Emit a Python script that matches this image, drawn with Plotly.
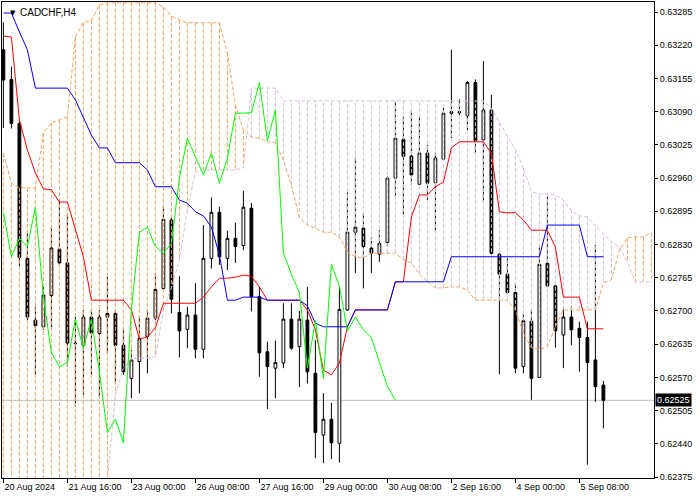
import plotly.graph_objects as go

# ---- data (CADCHF, H4) ----
bar_open = [0.63211, 0.63153, 0.63067, 0.62803, 0.62682, 0.62669, 0.62730, 0.62821, 0.62794, 0.62637,
            0.62633, 0.62688, 0.62656, 0.62688, 0.62695, 0.62633, 0.62568, 0.62601, 0.62650, 0.62686,
            0.62744, 0.62878, 0.62697, 0.62664, 0.62692, 0.62625, 0.62803, 0.62893, 0.62803, 0.62842,
            0.62828, 0.62901, 0.62728, 0.62620, 0.62588, 0.62598, 0.62684, 0.62630, 0.62682, 0.62578,
            0.62457, 0.62488, 0.62441, 0.62702, 0.62854, 0.62862, 0.62823, 0.62811, 0.62834, 0.62960,
            0.63036, 0.63003, 0.62948, 0.63009, 0.62951, 0.62997, 0.63090, 0.63090, 0.63082, 0.63147,
            0.63035, 0.63093, 0.62811, 0.62772, 0.62736, 0.62591, 0.62680, 0.62570, 0.62793, 0.62749,
            0.62653, 0.62688, 0.62666, 0.62648, 0.62604, 0.62555]
bar_high = [0.63265, 0.63178, 0.63074, 0.62852, 0.62708, 0.62747, 0.62864, 0.62917, 0.62891, 0.62689,
            0.62702, 0.62702, 0.62702, 0.62767, 0.62702, 0.62666, 0.62624, 0.62689, 0.62702, 0.62774,
            0.62904, 0.62884, 0.62768, 0.62708, 0.62754, 0.62868, 0.62922, 0.62904, 0.62857, 0.62873,
            0.62935, 0.62911, 0.62747, 0.62640, 0.62642, 0.62715, 0.62715, 0.62700, 0.62747, 0.62643,
            0.62539, 0.62520, 0.62746, 0.62932, 0.63002, 0.62891, 0.62845, 0.62858, 0.62963, 0.63110,
            0.63080, 0.63093, 0.63080, 0.63025, 0.63009, 0.63097, 0.63211, 0.63114, 0.63150, 0.63153,
            0.63189, 0.63123, 0.62813, 0.62803, 0.62754, 0.62695, 0.62702, 0.62826, 0.62924, 0.62750,
            0.62708, 0.62710, 0.62679, 0.62679, 0.62829, 0.62563]
bar_low = [0.63058, 0.63057, 0.62787, 0.62682, 0.62575, 0.62663, 0.62663, 0.62790, 0.62591, 0.62513,
           0.62536, 0.62575, 0.62532, 0.62617, 0.62559, 0.62575, 0.62529, 0.62539, 0.62578, 0.62682,
           0.62741, 0.62695, 0.62609, 0.62627, 0.62607, 0.62607, 0.62783, 0.62790, 0.62780, 0.62794,
           0.62819, 0.62699, 0.62571, 0.62508, 0.62529, 0.62588, 0.62624, 0.62551, 0.62558, 0.62412,
           0.62402, 0.62410, 0.62403, 0.62700, 0.62774, 0.62744, 0.62774, 0.62796, 0.62826, 0.62924,
           0.62888, 0.62946, 0.62946, 0.62917, 0.62855, 0.62997, 0.63038, 0.63083, 0.63054, 0.63009,
           0.62914, 0.62810, 0.62576, 0.62733, 0.62578, 0.62578, 0.62526, 0.62570, 0.62747, 0.62628,
           0.62588, 0.62633, 0.62581, 0.62399, 0.62522, 0.62470]
bar_close = [0.63152, 0.63067, 0.62805, 0.62688, 0.62671, 0.62731, 0.62823, 0.62794, 0.62637, 0.62636,
             0.62688, 0.62657, 0.62688, 0.62695, 0.62633, 0.62581, 0.62604, 0.62646, 0.62686, 0.62742,
             0.62879, 0.62723, 0.62661, 0.62692, 0.62625, 0.62803, 0.62893, 0.62806, 0.62842, 0.62826,
             0.62903, 0.62728, 0.62618, 0.62591, 0.62599, 0.62684, 0.62627, 0.62684, 0.62581, 0.62462,
             0.62488, 0.62442, 0.62703, 0.62854, 0.62864, 0.62826, 0.62813, 0.62832, 0.62960, 0.63038,
             0.63002, 0.62966, 0.63009, 0.62950, 0.62999, 0.63087, 0.63087, 0.63088, 0.63147, 0.63033,
             0.63093, 0.62813, 0.62772, 0.62736, 0.62588, 0.62681, 0.62568, 0.62791, 0.62749, 0.62661,
             0.62688, 0.62663, 0.62648, 0.62599, 0.62552, 0.62525]

tenkan = [0.63238, 0.63236, 0.63074, 0.63015, 0.62970, 0.62939, 0.62937, 0.62913, 0.62913, 0.62858,
          0.62806, 0.62721, 0.62721, 0.62721, 0.62721, 0.62721, 0.62702, 0.62645, 0.62649, 0.62667,
          0.62715, 0.62715, 0.62715, 0.62715, 0.62715, 0.62727, 0.62747, 0.62764, 0.62764, 0.62766,
          0.62770, 0.62768, 0.62747, 0.62721, 0.62721, 0.62721, 0.62721, 0.62721, 0.62702, 0.62663,
          0.62584, 0.62575, 0.62598, 0.62669, 0.62702, 0.62702, 0.62702, 0.62702, 0.62702, 0.62757,
          0.62757, 0.62884, 0.62927, 0.62927, 0.62943, 0.62952, 0.63019, 0.63031, 0.63031, 0.63031,
          0.63031, 0.63009, 0.62894, 0.62892, 0.62892, 0.62878, 0.62858, 0.62858, 0.62858, 0.62825,
          0.62727, 0.62727, 0.62727, 0.62665, 0.62665, 0.62665]
kijun = [0.63283, 0.63283, 0.63246, 0.63211, 0.63136, 0.63136, 0.63136, 0.63136, 0.63136, 0.63113,
         0.63078, 0.63044, 0.63019, 0.63019, 0.62990, 0.62990, 0.62990, 0.62990, 0.62976, 0.62943,
         0.62943, 0.62943, 0.62917, 0.62911, 0.62894, 0.62886, 0.62864, 0.62810, 0.62721, 0.62721,
         0.62727, 0.62727, 0.62727, 0.62721, 0.62721, 0.62721, 0.62721, 0.62721, 0.62710, 0.62676,
         0.62669, 0.62669, 0.62669, 0.62669, 0.62702, 0.62702, 0.62702, 0.62702, 0.62702, 0.62757,
         0.62757, 0.62757, 0.62757, 0.62757, 0.62757, 0.62757, 0.62806, 0.62806, 0.62806, 0.62806,
         0.62806, 0.62806, 0.62806, 0.62806, 0.62806, 0.62806, 0.62806, 0.62806, 0.62868, 0.62868,
         0.62868, 0.62868, 0.62868, 0.62806, 0.62806, 0.62806]
span_a = [0.63009, 0.62950, 0.62941, 0.62941, 0.62941, 0.63048, 0.63068, 0.63074, 0.63080, 0.63236,
          0.63264, 0.63269, 0.63299, 0.63303, 0.63303, 0.63303, 0.63303, 0.63303, 0.63303, 0.63303,
          0.63295, 0.63277, 0.63269, 0.63264, 0.63264, 0.63264, 0.63264, 0.63264, 0.63205, 0.63103,
          0.63054, 0.63040, 0.63038, 0.63031, 0.63029, 0.62995, 0.62946, 0.62882, 0.62868, 0.62862,
          0.62854, 0.62854, 0.62845, 0.62815, 0.62806, 0.62804, 0.62813, 0.62813, 0.62813, 0.62813,
          0.62800, 0.62794, 0.62772, 0.62757, 0.62745, 0.62745, 0.62747, 0.62747, 0.62741, 0.62721,
          0.62721, 0.62721, 0.62721, 0.62721, 0.62702, 0.62657, 0.62628, 0.62624, 0.62630, 0.62669,
          0.62702, 0.62702, 0.62702, 0.62702, 0.62702, 0.62755, 0.62761, 0.62819, 0.62843, 0.62845,
          0.62845, 0.62853]
span_b = [0.62330, 0.62330, 0.62330, 0.62330, 0.62330, 0.62330, 0.62330, 0.62330, 0.62330, 0.62330,
          0.62330, 0.62330, 0.62330, 0.62369, 0.62536, 0.62588, 0.62606, 0.62608, 0.62608, 0.62610,
          0.62702, 0.62745, 0.62800, 0.62898, 0.62972, 0.62976, 0.62976, 0.62976, 0.62976, 0.62976,
          0.62980, 0.63136, 0.63136, 0.63136, 0.63136, 0.63111, 0.63111, 0.63111, 0.63111, 0.63111,
          0.63111, 0.63111, 0.63111, 0.63111, 0.63111, 0.63111, 0.63111, 0.63111, 0.63111, 0.63111,
          0.63111, 0.63111, 0.63111, 0.63111, 0.63111, 0.63111, 0.63111, 0.63111, 0.63111, 0.63111,
          0.63111, 0.63097, 0.63070, 0.63044, 0.63015, 0.62980, 0.62933, 0.62929, 0.62929, 0.62927,
          0.62917, 0.62896, 0.62886, 0.62884, 0.62866, 0.62851, 0.62835, 0.62825, 0.62796, 0.62757,
          0.62757, 0.62757]
chikou = bar_close[26:]  # lagging span: closes shifted 26 bars back

x_tick_bars = [0, 8, 16, 24, 32, 40, 48, 56, 64, 72]
x_tick_text = ["20 Aug 2024", "21 Aug 16:00", "23 Aug 00:00", "26 Aug 08:00", "27 Aug 16:00",
               "29 Aug 00:00", "30 Aug 08:00", "2 Sep 16:00", "4 Sep 00:00", "5 Sep 08:00"]
y_ticks = [0.62375, 0.62440, 0.62505, 0.62570, 0.62635, 0.62700, 0.62765, 0.62830,
           0.62895, 0.62960, 0.63025, 0.63090, 0.63155, 0.63220, 0.63285]
last_price = 0.62525
symbol_title = "CADCHF,H4"

FONT = "Liberation Sans, Arial, sans-serif"
SANDY = "#f4a460"
THISTLE = "#d8bfd8"
DASH = "4px,2px"

bars = list(range(len(bar_close)))
fwd = list(range(len(span_a)))

# cloud histogram segments
ox, oy, tx, ty = [], [], [], []
for k in fwd:
    if span_a[k] >= span_b[k]:
        ox += [k, k, None]; oy += [span_a[k], span_b[k], None]
    else:
        tx += [k, k, None]; ty += [span_a[k], span_b[k], None]

fig = go.Figure()
fig.add_trace(go.Candlestick(
    x=bars, open=bar_open, high=bar_high, low=bar_low, close=bar_close,
    increasing=dict(line=dict(color="black", width=1), fillcolor="white"),
    decreasing=dict(line=dict(color="black", width=1), fillcolor="black"),
    whiskerwidth=0, hoverinfo="skip"))
fig.add_trace(go.Scatter(x=ox, y=oy, mode="lines", line=dict(color=SANDY, width=1, dash=DASH),
                         hoverinfo="skip", connectgaps=False))
fig.add_trace(go.Scatter(x=tx, y=ty, mode="lines", line=dict(color=THISTLE, width=1, dash=DASH),
                         hoverinfo="skip", connectgaps=False))
fig.add_trace(go.Scatter(x=fwd, y=span_a, mode="lines", line=dict(color=SANDY, width=1, dash=DASH),
                         hoverinfo="skip"))
fig.add_trace(go.Scatter(x=fwd, y=span_b, mode="lines", line=dict(color=THISTLE, width=1, dash=DASH),
                         hoverinfo="skip"))
fig.add_trace(go.Scatter(x=bars, y=tenkan, mode="lines", line=dict(color="#ff0000", width=1),
                         hoverinfo="skip"))
fig.add_trace(go.Scatter(x=bars, y=kijun, mode="lines", line=dict(color="#0000ff", width=1),
                         hoverinfo="skip"))
fig.add_trace(go.Scatter(x=list(range(len(chikou))), y=chikou, mode="lines",
                         line=dict(color="#00ff00", width=1), hoverinfo="skip"))

fig.add_shape(type="line", xref="paper", x0=0, x1=1, yref="y", y0=last_price, y1=last_price,
              line=dict(color="#c0c0c0", width=1), layer="below")

fig.add_annotation(xref="paper", x=1, yref="y", y=last_price, xanchor="left", yanchor="middle",
                   text=f"{last_price:.5f}", showarrow=False, bgcolor="black",
                   font=dict(color="white", size=9, family=FONT), borderpad=1, xshift=1)
fig.add_annotation(xref="paper", yref="paper", x=0.0, y=1.0, xshift=6, yshift=-5,
                   xanchor="left", yanchor="top", text="▼", showarrow=False,
                   font=dict(color="black", size=7, family="DejaVu Sans"))
fig.add_annotation(xref="paper", yref="paper", x=0.0, y=1.0, xshift=16, yshift=-3,
                   xanchor="left", yanchor="top", text=symbol_title, showarrow=False,
                   font=dict(color="black", size=10, family=FONT))

fig.update_layout(
    width=700, height=500,
    margin=dict(l=2, r=46, t=2, b=22),
    paper_bgcolor="white", plot_bgcolor="white",
    showlegend=False, boxgap=0.5,
    font=dict(family=FONT, size=9, color="black"),
    xaxis=dict(range=[-0.175, 81.325], rangeslider=dict(visible=False), showgrid=False, zeroline=False,
               tickmode="array", tickvals=x_tick_bars, ticktext=x_tick_text,
               ticks="outside", ticklen=4, tickcolor="black", ticklabelposition="outside right",
               showline=True, linecolor="black", linewidth=1, mirror=True,
               tickfont=dict(size=9, family=FONT, color="black")),
    yaxis=dict(range=[0.6237304, 0.6330457], side="right", showgrid=False, zeroline=False,
               tickmode="array", tickvals=y_ticks, ticktext=[f"{v:.5f}" for v in y_ticks],
               ticks="outside", ticklen=3, tickcolor="black",
               showline=True, linecolor="black", linewidth=1, mirror=True,
               tickfont=dict(size=9, family=FONT, color="black")),
)

fig.write_html("out.html", config={"displayModeBar": False},
               post_script="document.body.style.margin='0';document.body.style.padding='0';")
